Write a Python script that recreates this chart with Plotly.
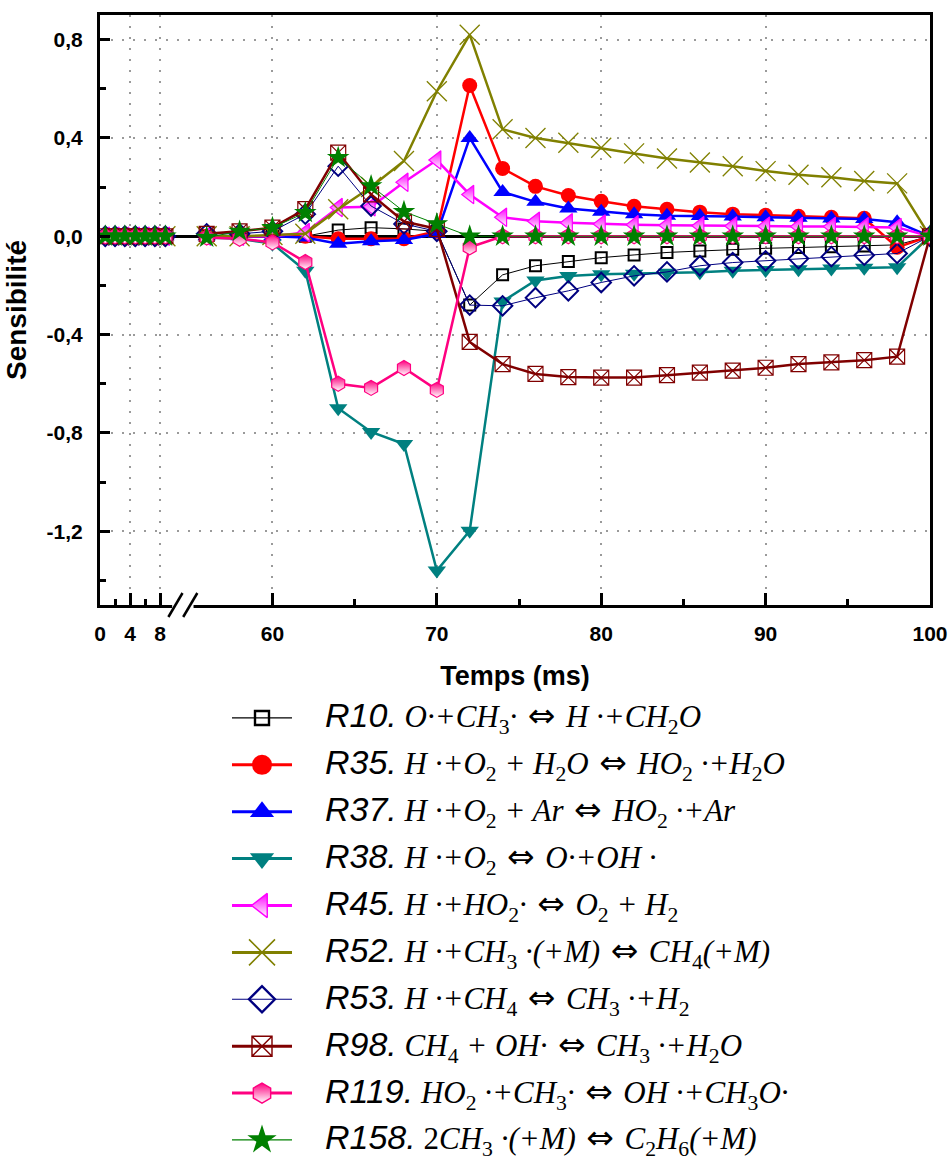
import plotly.graph_objects as go

# ---------------- data ----------------
t_left = [0.7, 2.0, 3.3, 4.7, 6.0, 7.3, 8.7]
t_right = [56, 58, 60, 62, 64, 66, 68, 70, 72, 74, 76, 78, 80, 82, 84, 86, 88, 90, 92, 94, 96, 98, 100]

left_zero = [0, 0, 0, 0, 0, 0, 0]

R10 = [0, 0, 0, 0, 0.025, 0.035, 0.03, 0.02, -0.28, -0.157, -0.12, -0.103, -0.087, -0.076, -0.066, -0.06, -0.053, -0.049, -0.046, -0.043, -0.04, -0.035, 0]
R35 = [0, 0, 0, 0, -0.01, -0.01, -0.01, 0.02, 0.613, 0.276, 0.203, 0.166, 0.142, 0.122, 0.11, 0.098, 0.09, 0.085, 0.081, 0.077, 0.073, -0.045, 0]
R37 = [0, 0, 0, -0.005, -0.03, -0.02, -0.015, 0.01, 0.40, 0.18, 0.14, 0.113, 0.1, 0.09, 0.083, 0.082, 0.08, 0.077, 0.075, 0.072, 0.07, 0.057, 0]
R38 = [-0.005, -0.01, -0.03, -0.14, -0.70, -0.796, -0.845, -1.36, -1.198, -0.265, -0.18, -0.162, -0.155, -0.153, -0.148, -0.146, -0.14, -0.137, -0.134, -0.131, -0.128, -0.126, 0]
R45 = [0, 0, 0, 0.015, 0.117, 0.12, 0.22, 0.31, 0.17, 0.077, 0.061, 0.055, 0.05, 0.047, 0.045, 0.043, 0.042, 0.041, 0.04, 0.04, 0.039, 0.036, 0]
R52 = [0, 0, 0.005, 0.01, 0.11, 0.2, 0.306, 0.59, 0.82, 0.435, 0.40, 0.38, 0.36, 0.337, 0.316, 0.30, 0.285, 0.265, 0.25, 0.24, 0.225, 0.215, 0]
R53 = [0.01, 0.01, 0.02, 0.09, 0.285, 0.123, 0.05, 0.02, -0.28, -0.283, -0.25, -0.222, -0.188, -0.161, -0.145, -0.12, -0.107, -0.10, -0.091, -0.083, -0.077, -0.07, 0]
R98 = [0.01, 0.02, 0.035, 0.11, 0.34, 0.17, 0.06, 0.03, -0.43, -0.52, -0.56, -0.573, -0.575, -0.575, -0.565, -0.555, -0.547, -0.535, -0.52, -0.513, -0.504, -0.49, 0]
R119 = [-0.005, -0.01, -0.025, -0.105, -0.60, -0.617, -0.536, -0.625, -0.045, 0, 0, 0, 0, 0, 0, 0, 0, 0, 0, 0, 0, 0, 0]
R158 = [-0.005, 0.02, 0.035, 0.096, 0.32, 0.205, 0.10, 0.05, 0.0, 0, 0, 0, 0, 0, 0, 0, 0, 0, 0, 0, 0, 0, 0]

names = ["R10.", "R35.", "R37.", "R38.", "R45.", "R52.", "R53.", "R98.", "R119.", "R158."]
series = [R10, R35, R37, R38, R45, R52, R53, R98, R119, R158]

x_ticks_real = [0, 4, 8, 60, 70, 80, 90, 100]
x_minor_real = [2, 6, 65, 75, 85, 95]
y_ticks = [-1.2, -0.8, -0.4, 0.0, 0.4, 0.8]
y_ticktext = ["-1,2", "-0,8", "-0,4", "0,0", "0,4", "0,8"]
y_minor = [-1.4, -1.0, -0.6, -0.2, 0.2, 0.6]

# ---------------- axis break mapping ----------------
LEFT_SCALE = 7.5 / 16.4
LEFT_OFFSET = 49.51


def brk(t):
    return t if t >= 30 else LEFT_OFFSET + LEFT_SCALE * t


def S(x):
    return f'<sub><span style="font-style:normal">{x}</span></sub>'


EQV = '<span style="font-family:DejaVu Sans;font-style:normal;font-size:33px"> ⇔ </span>'

eqs = [
    f"O·+CH{S(3)}·{EQV}H ·+CH{S(2)}O",
    f"H ·+O{S(2)} + H{S(2)}O{EQV}HO{S(2)} ·+H{S(2)}O",
    f"H ·+O{S(2)} + Ar{EQV}HO{S(2)} ·+Ar",
    f"H ·+O{S(2)}{EQV}O·+OH ·",
    f"H ·+HO{S(2)}·{EQV}O{S(2)} + H{S(2)}",
    f"H ·+CH{S(3)} ·(+M){EQV}CH{S(4)}(+M)",
    f"H ·+CH{S(4)}{EQV}CH{S(3)} ·+H{S(2)}",
    f"CH{S(4)} + OH·{EQV}CH{S(3)} ·+H{S(2)}O",
    f"HO{S(2)} ·+CH{S(3)}·{EQV}OH ·+CH{S(3)}O·",
    f'<span style="font-style:normal">2</span>CH{S(3)} ·(+M){EQV}C{S(2)}H{S(6)}(+M)',
]

styles = [
    dict(color="#000000", lw=1, sym="square-open", size=11, mcolor="#000000", mlw=2),
    dict(color="#FF0000", lw=2.5, sym="circle", size=15, mcolor="#FF0000", mlw=0),
    dict(color="#0000FF", lw=2.5, sym="triangle-up", size=16, mcolor="#0000FF", mlw=0),
    dict(color="#008080", lw=2.5, sym="triangle-down", size=16, mcolor="#008080", mlw=0),
    dict(color="#FF00FF", lw=2.5, sym="triangle-left", size=16, mcolor="#FF00FF", mlw=1.2, grad=True),
    dict(color="#808000", lw=2.5, sym="x-thin-open", size=20, mcolor="#808000", mlw=1.3),
    dict(color="#000080", lw=1, sym="diamond-open", size=15, mcolor="#000080", mlw=2),
    dict(color="#800000", lw=2.5, sym="square-x-open", size=15, mcolor="#800000", mlw=1.2),
    dict(color="#FF0080", lw=2.5, sym="hexagon", size=15, mcolor="#FF0080", mlw=1.2, grad=True),
    dict(color="#008000", lw=1, sym="star", size=17, mcolor="#008000", mlw=0),
]

fig = go.Figure()

xs = [brk(t) for t in t_left] + [None] + [brk(t) for t in t_right]

for name, vals, st in zip(names, series, styles):
    ys = left_zero + [None] + vals
    marker = dict(symbol=st["sym"], size=st["size"], color=st["mcolor"], opacity=1,
                  line=dict(color=st["mcolor"], width=st["mlw"]))
    if st.get("grad"):
        marker["gradient"] = dict(type="vertical", color="#FFFFFF")
    fig.add_trace(go.Scatter(x=xs, y=ys, mode="lines+markers", name=name,
                             line=dict(color=st["color"], width=st["lw"]),
                             marker=marker, showlegend=False,
                             xaxis="x", yaxis="y"))

# manual legend (longer sample lines)
for i, (name, st) in enumerate(zip(names, styles)):
    lsize = round(st["size"] * 1.3)
    marker = dict(symbol=st["sym"], size=[0, lsize, 0], color=st["mcolor"], opacity=1,
                  line=dict(color=st["mcolor"], width=st["mlw"] * 1.2))
    if st.get("grad"):
        marker["gradient"] = dict(type="vertical", color="#FFFFFF")
    fig.add_trace(go.Scatter(x=[0, 1, 2], y=[i, i, i], mode="lines+markers",
                             line=dict(color=st["color"], width=st["lw"] * 1.2),
                             marker=marker, showlegend=False, hoverinfo="skip",
                             xaxis="x2", yaxis="y2"))
    fig.add_annotation(
        xref="paper", yref="y2", x=(323 - 100) / 830, y=i, xanchor="left", yanchor="middle",
        showarrow=False,
        text=f'<span style="font-family:Liberation Sans;font-size:34px">{name}</span> {eqs[i]}',
        font=dict(family="Liberation Serif", size=31, color="black", style="italic"),
    )

H = 1159
PT, PB = 15, 5
ph = H - PT - PB
main_bottom = (H - PB - 605) / ph
leg_top = (H - PB - 699.2) / ph

grid = dict(showgrid=True, gridcolor="#9a9a9a", gridwidth=1.5, griddash="2px,9px")

fig.update_layout(
    width=949, height=H,
    margin=dict(l=100, r=19, t=PT, b=PB, autoexpand=False),
    plot_bgcolor="white", paper_bgcolor="white",
    font=dict(family="Liberation Sans", color="black"),
    xaxis=dict(
        domain=[0, 1], anchor="y", range=[LEFT_OFFSET, 100],
        tickmode="array", tickvals=[brk(t) for t in x_ticks_real],
        ticktext=[str(t) for t in x_ticks_real],
        ticks="inside", ticklen=12, tickwidth=2.5, tickcolor="black",
        minor=dict(tickmode="array", tickvals=[brk(t) for t in x_minor_real],
                   ticks="inside", ticklen=6, tickwidth=2.5, tickcolor="black", showgrid=False),
        showline=True, linewidth=3, linecolor="black", mirror=True,
        tickfont=dict(size=21, weight="bold"), ticklabelstandoff=8,
        title=dict(text="Temps (ms)", font=dict(size=27, weight="bold"), standoff=22),
        zeroline=False, **grid,
    ),
    yaxis=dict(
        domain=[main_bottom, 1], anchor="x", range=[-1.5, 0.9],
        tickmode="array", tickvals=y_ticks, ticktext=y_ticktext,
        ticks="inside", ticklen=10, tickwidth=2.5, tickcolor="black",
        minor=dict(tickmode="array", tickvals=y_minor, ticks="inside", ticklen=6,
                   tickwidth=2.5, tickcolor="black", showgrid=False),
        showline=True, linewidth=3, linecolor="black", mirror=True,
        tickfont=dict(size=21, weight="bold"), ticklabelstandoff=10,
        title=dict(text="Sensibilité", font=dict(size=28, weight="bold"), standoff=12),
        zeroline=True, zerolinecolor="black", zerolinewidth=2.5, **grid,
    ),
    xaxis2=dict(domain=[(232 - 100) / 830, (292 - 100) / 830], anchor="y2", range=[0, 2],
                visible=False, fixedrange=True),
    yaxis2=dict(domain=[0, leg_top], anchor="x2", range=[9.3, -0.4],
                visible=False, fixedrange=True),
)

# axis break marks on the bottom axis
pix_y = lambda p: (H - PB - p) / ph
fig.add_shape(type="rect", xref="x", yref="paper", x0=54.1 - 0.2, x1=55.0 + 0.2,
              y0=pix_y(609), y1=pix_y(601), fillcolor="white", line=dict(width=0), layer="above")
for cx in [54.1, 55.0]:
    fig.add_shape(type="line", xref="x", yref="paper", x0=cx - 0.43, x1=cx + 0.43,
                  y0=pix_y(617), y1=pix_y(593), line=dict(color="black", width=2.5), layer="above")

fig.write_html("out.html", config={"displayModeBar": False},
               post_script="document.body.style.margin='0';document.body.style.overflow='hidden';")
